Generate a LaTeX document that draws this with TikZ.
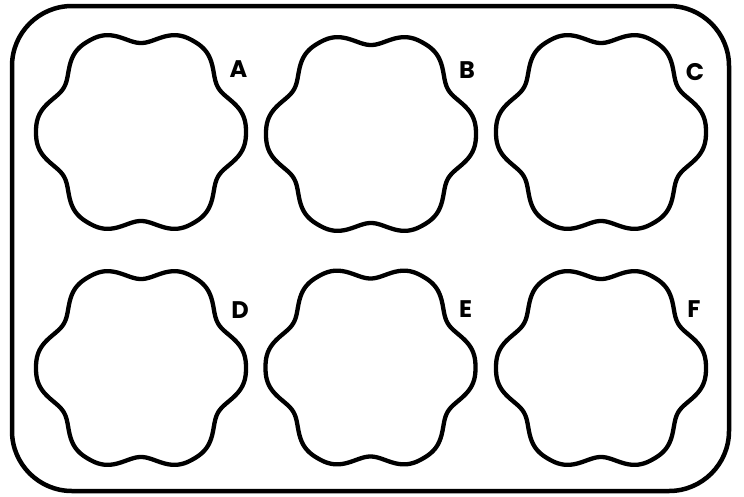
\documentclass[tikz,border=0pt]{standalone}
\usepackage{fontspec}
\newfontfamily\labfont{Poppins}
\begin{document}
\begin{tikzpicture}[x=1pt,y=-1pt,
  frame/.style={line width=4.5pt, rounded corners=60pt},
  well/.style={line width=4.3pt, line join=round},
  wlabel/.style={font=\labfont\bfseries\fontsize{24}{24}\selectfont, inner sep=0pt}]
\useasboundingbox (0,0) rectangle (744,496);
\draw[frame] (12,6) rectangle (729,491);
\foreach \n/\cx/\cy/\lx/\ly in {A/141/132/238.5/69.5, B/371/134/467/70, C/601/132/695/72,
                                D/141/368/240/310, E/370.5/367.5/465.5/309, F/601/368/694/309} {
  \coordinate (c\n) at (\cx,\cy);
  \begin{scope}[shift={(c\n)}]
    \draw[well] plot[domain=0:360, samples=361]
      ({(105-16*((1-cos(6*\x))/2)^1.5)*cos(\x)}, {(105-16*((1-cos(6*\x))/2)^1.5)*sin(\x)}) -- cycle;
  \end{scope}
  \node[wlabel] (l\n) at (\lx,\ly) {\n};
}
\end{tikzpicture}
\end{document}
